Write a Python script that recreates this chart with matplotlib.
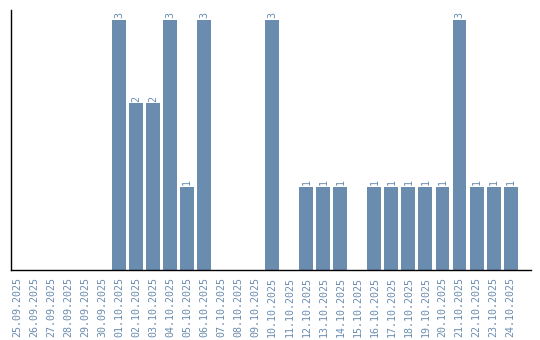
import matplotlib
matplotlib.use("Agg")
import matplotlib.pyplot as plt

dates = ["25.09.2025", "26.09.2025", "27.09.2025", "28.09.2025", "29.09.2025",
         "30.09.2025", "01.10.2025", "02.10.2025", "03.10.2025", "04.10.2025",
         "05.10.2025", "06.10.2025", "07.10.2025", "08.10.2025", "09.10.2025",
         "10.10.2025", "11.10.2025", "12.10.2025", "13.10.2025", "14.10.2025",
         "15.10.2025", "16.10.2025", "17.10.2025", "18.10.2025", "19.10.2025",
         "20.10.2025", "21.10.2025", "22.10.2025", "23.10.2025", "24.10.2025"]
counts = [0, 0, 0, 0, 0, 0, 3, 2, 2, 3, 1, 3, 0, 0, 0,
          3, 0, 1, 1, 1, 0, 1, 1, 1, 1, 1, 3, 1, 1, 1]

color = "#6a8caf"

W, H = 540, 340
fig = plt.figure(figsize=(W / 100, H / 100), dpi=100)
ax = fig.add_axes([11 / W, (H - 270) / H, (531 - 11) / W, (270 - 10) / H])

x = range(len(dates))
ax.bar(x, counts, width=0.82, color=color)

for i, v in enumerate(counts):
    if v > 0:
        ax.text(i, v + 0.02, str(v), rotation=90, ha="center", va="bottom",
                fontsize=7.2, family="DejaVu Sans Mono", color=color)

ax.set_xlim(-0.35, 30.2)
ax.set_ylim(0, 3.12)
ax.set_xticks(list(x))
ax.set_xticklabels(dates, rotation=90, fontsize=7.2, family="DejaVu Sans Mono",
                   color=color)
ax.tick_params(axis="x", length=0, pad=5)
ax.set_yticks([])
for s in ["top", "right"]:
    ax.spines[s].set_visible(False)
for s in ["left", "bottom"]:
    ax.spines[s].set_color("black")
    ax.spines[s].set_linewidth(1.0)

fig.savefig("out.png", dpi=100)
